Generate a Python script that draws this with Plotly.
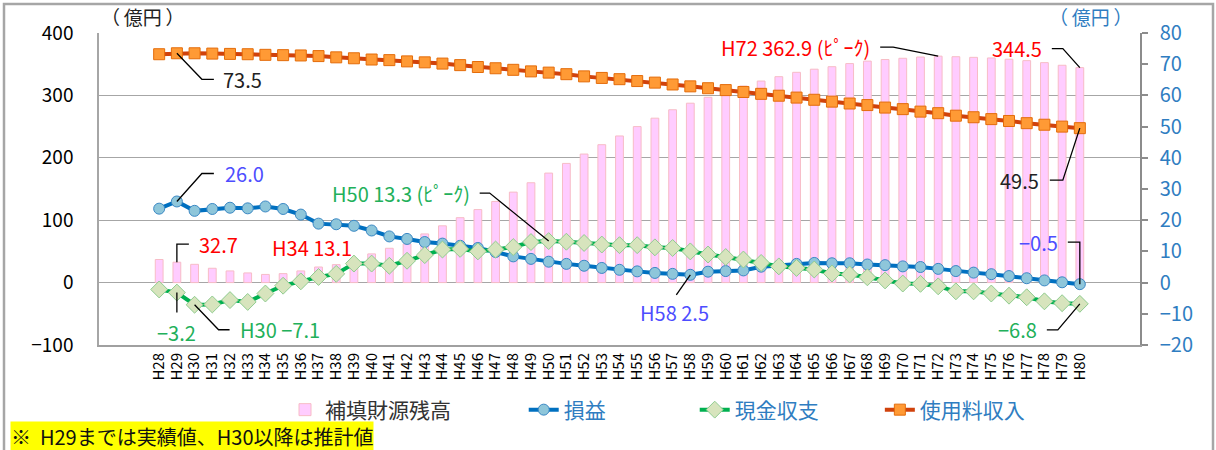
import plotly.graph_objects as go

categories = ["H28", "H29", "H30", "H31", "H32", "H33", "H34", "H35", "H36", "H37",
              "H38", "H39", "H40", "H41", "H42", "H43", "H44", "H45", "H46", "H47",
              "H48", "H49", "H50", "H51", "H52", "H53", "H54", "H55", "H56", "H57",
              "H58", "H59", "H60", "H61", "H62", "H63", "H64", "H65", "H66", "H67",
              "H68", "H69", "H70", "H71", "H72", "H73", "H74", "H75", "H76", "H77",
              "H78", "H79", "H80"]

# 補填財源残高 (left axis, 億円)
reserve = [37.0, 32.7, 29.3, 23.0, 18.7, 15.5, 13.1, 14.4, 18.7, 25.0,
           28.8, 36.0, 46.0, 55.0, 62.0, 78.0, 91.0, 104.0, 117.0, 130.0,
           145.0, 160.0, 175.5, 191.0, 206.0, 221.0, 235.0, 250.0, 263.5, 277.0,
           287.5, 297.0, 306.0, 315.0, 323.0, 330.0, 337.0, 342.0, 346.0, 351.0,
           355.0, 357.5, 359.5, 361.5, 362.9, 362.0, 361.0, 360.0, 358.0, 355.7,
           352.5, 348.3, 344.5]

# 損益 (right axis)
profit = [23.7, 26.0, 23.0, 23.6, 24.0, 23.8, 24.4, 23.6, 21.8, 18.9,
          18.7, 18.2, 16.7, 14.8, 14.0, 13.0, 12.5, 11.8, 11.1, 9.8,
          8.4, 7.6, 6.7, 6.0, 5.4, 4.7, 4.1, 3.6, 3.1, 2.8,
          2.5, 3.5, 3.7, 3.9, 5.1, 5.4, 6.0, 6.3, 6.2, 6.2,
          5.8, 5.6, 5.2, 5.0, 4.4, 3.7, 3.2, 2.7, 2.1, 1.4,
          0.7, 0.1, -0.5]

# 現金収支 (right axis)
cash = [-2.2, -3.2, -7.1, -7.0, -5.6, -6.2, -3.5, -1.0, 0.4, 1.8,
        2.8, 6.1, 6.1, 5.4, 7.0, 8.8, 10.6, 10.8, 10.0, 10.6,
        11.4, 13.0, 13.3, 13.1, 12.7, 12.2, 12.0, 12.0, 11.3, 11.1,
        10.0, 9.0, 8.2, 7.4, 6.3, 5.2, 4.7, 4.2, 2.9, 2.6,
        1.7, 0.7, -0.3, -0.4, -1.2, -2.8, -2.8, -3.5, -4.2, -4.7,
        -6.0, -6.6, -6.8]

# 使用料収入 (right axis)
usage = [73.2, 73.5, 73.5, 73.4, 73.3, 73.2, 73.0, 72.9, 72.8, 72.6,
         72.2, 71.9, 71.5, 71.3, 70.9, 70.6, 70.2, 69.7, 69.1, 68.7,
         68.2, 67.7, 67.3, 66.8, 66.1, 65.6, 65.2, 64.6, 64.1, 63.5,
         62.9, 62.3, 61.7, 61.1, 60.5, 59.9, 59.3, 58.6, 58.0, 57.4,
         56.9, 56.1, 55.6, 54.8, 54.3, 53.5, 53.0, 52.4, 51.8, 51.1,
         50.6, 50.0, 49.5]

FONT = "Noto Sans CJK JP"
AXBLUE = "#2F7DC1"
RED = "#FF0000"
GREEN = "#22B05A"
LBLUE = "#4D4DFF"
IS = "\u3000"
NB = "\u00a0"

fig = go.Figure()
fig.add_trace(go.Bar(x=categories, y=reserve,
                     name="<span style='color:#333333'>補填財源残高</span>" + IS * 3 + NB,
                     marker=dict(color="#FFCCFF", line=dict(color="#F7BCC6", width=1)),
                     yaxis="y"))
fig.add_trace(go.Scatter(x=categories, y=profit, name="損益" + IS * 4, mode="lines+markers",
                         line=dict(color="#0070C0", width=4),
                         marker=dict(symbol="circle", size=11, color="#8EC6DA",
                                     line=dict(color="#3A88C4", width=1)),
                         yaxis="y2"))
fig.add_trace(go.Scatter(x=categories, y=cash, name="現金収支" + IS * 2 + NB * 3, mode="lines+markers",
                         line=dict(color="#00B050", width=4),
                         marker=dict(symbol="diamond", size=13, color="#D7E4BD",
                                     line=dict(color="#8FCC8F", width=1)),
                         yaxis="y2"))
fig.add_trace(go.Scatter(x=categories, y=usage, name="使用料収入", mode="lines+markers",
                         line=dict(color="#D0420C", width=4),
                         marker=dict(symbol="square", size=11, color="#FF9A35",
                                     line=dict(color="#E46C0A", width=1)),
                         yaxis="y2"))

shapes = []
annotations = []


def callout(cat, val, yref, pts, text, color, dx, dy, anchor):
    path = "M" + " L".join(f"{px},{py}" for px, py in pts)
    shapes.append(dict(type="path", xref="x", yref=yref, xsizemode="pixel", ysizemode="pixel",
                       xanchor=cat, yanchor=val, path=path,
                       line=dict(color="black", width=1.3)))
    annotations.append(dict(x=cat, y=val, xref="x", yref=yref, text=text, showarrow=False,
                            xshift=dx, yshift=dy, xanchor=anchor, yanchor="middle",
                            font=dict(color=color, size=20, family=FONT)))


i29 = categories.index("H29")
i30 = categories.index("H30")
i34 = categories.index("H34")
i50 = categories.index("H50")
i58 = categories.index("H58")
i72 = categories.index("H72")
i80 = categories.index("H80")

callout("H29", usage[i29], "y2", [(0, 0), (25, -26), (37, -26)], f"{usage[i29]:.1f}", "#222222", 44, -26, "left")
callout("H29", profit[i29], "y2", [(0, 0), (25, 28), (37, 28)], f"{profit[i29]:.1f}", LBLUE, 46, 28, "left")
callout("H29", reserve[i29], "y", [(0, 0), (0, 18), (12, 18)], f"{reserve[i29]:.1f}", RED, 20, 18, "left")
annotations.append(dict(x="H34", y=reserve[i34], xref="x", yref="y", text=f"H34 {reserve[i34]:.1f}",
                        showarrow=False, xshift=5, yshift=27, xanchor="left", yanchor="middle",
                        font=dict(color=RED, size=20, family=FONT)))
callout("H29", cash[i29], "y2", [(0, 0), (0, -20)], f"−{abs(cash[i29]):.1f}", GREEN, 0, -40, "center")
callout("H30", cash[i30], "y2", [(0, 0), (24, -25), (35, -25)], f"H30 −{abs(cash[i30]):.1f}", GREEN, 43, -25, "left")
callout("H50", cash[i50], "y2", [(0, 0), (-59, 48), (-69, 48)], f"H50 {cash[i50]:.1f} (ﾋﾟｰｸ)", GREEN, -77, 48, "right")
callout("H58", profit[i58], "y2", [(0, 0), (-14, -20)], f"H58 {profit[i58]:.1f}", LBLUE, -16, -38, "center")
callout("H72", reserve[i72], "y", [(0, 0), (-45, 9), (-58, 9)], f"H72 {reserve[i72]:.1f} (ﾋﾟｰｸ)", RED, -66, 9, "right")
callout("H80", reserve[i80], "y", [(0, 0), (-17, 19), (-28, 19)], f"{reserve[i80]:.1f}", RED, -36, 19, "right")
callout("H80", usage[i80], "y2", [(0, 0), (-17, -52), (-30, -52)], f"{usage[i80]:.1f}", "#222222", -39, -52, "right")
callout("H80", profit[i80], "y2", [(0, 0), (0, 42), (-12, 42)], f"−{abs(profit[i80]):.1f}", LBLUE, -20, 42, "right")
callout("H80", cash[i80], "y2", [(0, 0), (-22, -26), (-33, -26)], f"−{abs(cash[i80]):.1f}", GREEN, -41, -26, "right")

# plot area geometry (pixels) for paper-referenced decorations
L, R, T, B = 99, 76, 33, 105
W, H = 1216, 450
PW, PH = W - L - R, H - T - B


def px(x):
    return (x - L) / PW


def py(y):
    return (H - B - y) / PH


annotations.append(dict(x=px(99), y=py(17), xref="paper", yref="paper", text="（\u2009億円\u2009）",
                        showarrow=False, xanchor="left", yanchor="middle",
                        font=dict(size=19, color="#222222", family=FONT)))
annotations.append(dict(x=px(1135), y=py(17), xref="paper", yref="paper", text="（\u2009億円\u2009）",
                        showarrow=False, xanchor="right", yanchor="middle",
                        font=dict(size=19, color=AXBLUE, family=FONT)))
annotations.append(dict(x=px(10), y=py(436), xref="paper", yref="paper",
                        text="※\u00a0\u00a0H29までは実績値、H30以降は推計値",
                        showarrow=False, xanchor="left", yanchor="middle", bgcolor="#FFFF00",
                        borderpad=0, font=dict(size=20, color="#111111", family=FONT)))

shapes.append(dict(type="rect", xref="paper", yref="paper", x0=px(4), x1=px(1213),
                   y0=py(470), y1=py(4), line=dict(color="#A6A6A6", width=2.5), layer="below"))

fig.update_layout(
    width=W, height=H,
    margin=dict(l=L, r=R, t=T, b=B, autoexpand=False),
    paper_bgcolor="white", plot_bgcolor="white",
    font=dict(family=FONT, color="#222222"),
    bargap=0.56,
    shapes=shapes,
    annotations=annotations,
    legend=dict(orientation="h", x=px(285), xanchor="left", y=py(410), yanchor="middle",
                font=dict(size=21, color=AXBLUE, family=FONT), bgcolor="rgba(0,0,0,0)",
                borderwidth=0),
    xaxis=dict(type="category", tickangle=-90, tickfont=dict(size=15, color="black"),
               tickmode="linear", dtick=1,
               showline=True, linecolor="#A0A0A0", linewidth=2, ticks="", showgrid=False),
    yaxis=dict(range=[-100, 400], dtick=100, showgrid=True, gridcolor="#A6A6A6", gridwidth=1.3,
               showline=True, linecolor="#A6A6A6", linewidth=1.5, zeroline=False,
               tickfont=dict(size=19, color="black"), ticklabelstandoff=20),
    yaxis2=dict(range=[-20, 80], dtick=10, overlaying="y", side="right", showgrid=False,
                showline=True, linecolor="#8C8C8C", linewidth=1.5, ticks="outside", ticklen=6,
                tickcolor="#8C8C8C", tickwidth=1.5, zeroline=False,
                tickfont=dict(size=20, color=AXBLUE), ticklabelstandoff=8),
)

fig.write_html("out.html", config={"displayModeBar": False},
               post_script="document.body.style.margin='0';document.body.style.overflow='hidden';")
